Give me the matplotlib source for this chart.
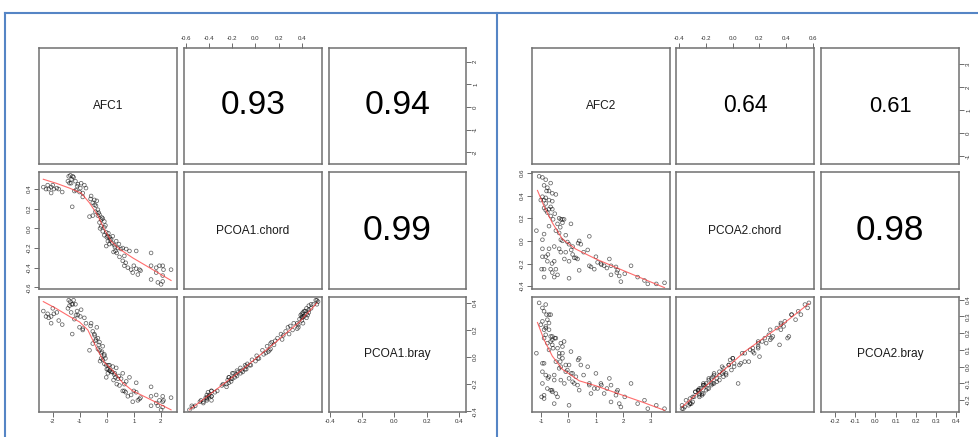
import matplotlib
matplotlib.use('Agg')
import matplotlib.pyplot as plt
from matplotlib.lines import Line2D

plt.rcParams['font.family'] = ['Liberation Sans', 'DejaVu Sans']

# ---- jeu 1 : AFC1 / PCOA1.chord / PCOA1.bray
afc1 = [-2.35, -2.19, -2.15, -2.06, -2.00, -2.06, -1.96, -1.78, -1.65, -1.41,
        -1.35, -1.26, -1.23, -1.44, -1.38, -1.32, -1.16, -1.07, -0.95, -0.83,
        -0.77, -1.14, -1.01, -1.20, -0.89, -1.28, -0.89, -0.58, -0.46, -0.37,
        -0.52, -0.40, -0.33, -0.64, -0.52, -0.33, -0.27, -0.21, -0.15, -0.09,
        -0.27, -0.21, -0.15, -0.02, -0.09, 0.04, 0.10, 0.16, 0.22, 0.04,
        0.10, -0.02, 0.35, 0.28, 0.32, 0.37, 0.53, 0.59, 0.72, 0.84,
        1.09, 0.65, 0.59, 0.65, 0.78, 0.90, 1.09, 0.96, 1.15, 1.21,
        1.64, 1.64, 1.83, 1.95, 2.07, 2.38, 1.83, 2.07, 1.64, 1.89,
        2.01, 2.07, -0.09, 0.00, 0.20, 0.41, -0.42, -0.25, 0.47, 0.25,
        -1.30, -1.10, -0.98, -0.60, -0.45, -0.30, -0.18, -0.05, 0.06, 0.12,
        0.30, 0.45, 0.70, 1.00, 1.25, 2.10, -2.25, -1.85]
chord1 = [0.42, 0.44, 0.40, 0.42, 0.44, 0.36, 0.40, 0.40, 0.37, 0.53,
          0.54, 0.53, 0.52, 0.48, 0.46, 0.46, 0.48, 0.45, 0.46, 0.44,
          0.41, 0.39, 0.37, 0.38, 0.36, 0.22, 0.32, 0.33, 0.29, 0.28,
          0.26, 0.23, 0.19, 0.12, 0.13, 0.13, 0.14, 0.09, 0.10, 0.07,
          0.06, 0.02, -0.03, -0.04, -0.07, -0.08, -0.09, -0.11, -0.08, -0.13,
          -0.16, -0.18, -0.13, -0.17, -0.23, -0.25, -0.21, -0.20, -0.21, -0.23,
          -0.23, -0.28, -0.33, -0.38, -0.40, -0.42, -0.41, -0.45, -0.47, -0.42,
          -0.25, -0.38, -0.40, -0.38, -0.38, -0.42, -0.45, -0.48, -0.52, -0.55,
          -0.57, -0.54, 0.01, -0.09, -0.15, -0.20, 0.17, 0.00, -0.29, -0.24,
          0.50, 0.43, 0.41, 0.30, 0.24, 0.16, 0.11, 0.03, -0.05, -0.12,
          -0.19, -0.16, -0.35, -0.38, -0.43, -0.42, 0.40, 0.41]
bray1 = [0.34, 0.32, 0.29, 0.30, 0.36, 0.25, 0.32, 0.27, 0.24, 0.42,
         0.41, 0.39, 0.42, 0.36, 0.38, 0.33, 0.39, 0.31, 0.35, 0.29,
         0.25, 0.31, 0.22, 0.28, 0.21, 0.17, 0.20, 0.25, 0.17, 0.22,
         0.19, 0.13, 0.14, 0.05, 0.10, 0.06, 0.11, 0.03, 0.08, 0.02,
         0.05, -0.01, -0.02, -0.06, -0.05, -0.09, -0.06, -0.11, -0.07, -0.12,
         -0.10, -0.15, -0.08, -0.13, -0.15, -0.20, -0.16, -0.12, -0.18, -0.15,
         -0.19, -0.20, -0.25, -0.25, -0.29, -0.28, -0.26, -0.33, -0.32, -0.31,
         -0.22, -0.29, -0.28, -0.32, -0.29, -0.30, -0.34, -0.33, -0.36, -0.36,
         -0.39, -0.37, 0.01, -0.09, -0.11, -0.16, 0.12, -0.03, -0.21, -0.17,
         0.39, 0.34, 0.30, 0.23, 0.16, 0.09, 0.04, -0.01, -0.06, -0.10,
         -0.12, -0.14, -0.26, -0.25, -0.30, -0.32, 0.30, 0.33]
names1 = ['AFC1', 'PCOA1.chord', 'PCOA1.bray']
cors1 = {(0, 1): 0.93, (0, 2): 0.94, (1, 2): 0.99}
# courbes lowess
smooth1 = {
    (1, 0): ([-2.35, -1.88, -1.38, -0.95, -0.64, -0.33, -0.09, 0.16, 0.47, 0.96, 1.58, 2.38],
             [0.50, 0.46, 0.41, 0.36, 0.26, 0.13, -0.01, -0.13, -0.21, -0.30, -0.40, -0.53]),
    (2, 0): ([-2.35, -1.88, -1.38, -1.01, -0.70, -0.40, -0.09, 0.22, 0.59, 0.96, 1.58, 2.38],
             [0.41, 0.36, 0.30, 0.26, 0.20, 0.075, -0.04, -0.10, -0.19, -0.25, -0.31, -0.39]),
    (2, 1): ([-0.57, -0.40, -0.11, 0.16, 0.38, 0.53],
             [-0.39, -0.28, -0.09, 0.10, 0.26, 0.40]),
}
lims1 = [(-2.51, 2.60), (-0.617, 0.574), (-0.406, 0.444)]
ticks1 = [[-2, -1, 0, 1, 2], [-0.6, -0.4, -0.2, 0.0, 0.2, 0.4], [-0.4, -0.2, 0.0, 0.2, 0.4]]
fmts1 = ['%d', '%.1f', '%.1f']

# ---- jeu 2 : AFC2 / PCOA2.chord / PCOA2.bray
afc2 = [-1.07, -0.95, -0.83, -0.65, -0.89, -0.77, -0.71, -0.59, -0.46, -0.95,
        -0.83, -1.01, -0.89, -0.71, -0.59, -0.83, -0.89, -0.83, -0.77, -0.71,
        -0.59, -0.65, -0.56, -0.34, -0.28, -0.22, -0.16, -0.22, -0.40, 0.09,
        -0.71, -0.46, -0.34, -0.28, -0.22, -0.04, 0.02, 0.15, 0.39, 0.45,
        0.76, -1.17, -0.89, -0.95, -0.52, -0.95, -0.71, -0.34, -0.28, -0.10,
        0.15, 0.27, 0.33, 0.70, -0.95, -0.83, -0.77, -0.52, -0.89, -0.65,
        -0.46, -0.59, -0.52, -0.89, 0.02, 0.21, 0.39, 0.02, 0.76, 0.82,
        1.00, 1.06, 1.18, 1.30, 1.49, 1.55, 1.55, 1.73, 1.79, 1.85,
        1.91, 1.76, 2.28, 2.52, 2.77, 2.89, 3.20, 3.50, 0.94, -0.98,
        -0.80, -0.65, -0.50, -0.30, -0.10, 0.10, 0.35, -0.75, -0.60, -0.40,
        0.55, 1.40, 2.05, 1.20, -0.15]
chord2 = [0.57, 0.56, 0.54, 0.51, 0.49, 0.47, 0.44, 0.42, 0.41, 0.39,
          0.38, 0.36, 0.36, 0.36, 0.35, 0.33, 0.29, 0.27, 0.25, 0.28,
          0.28, 0.22, 0.19, 0.20, 0.19, 0.19, 0.19, 0.16, 0.15, 0.15,
          0.13, 0.09, 0.07, 0.01, 0.00, -0.01, -0.03, -0.05, 0.00, -0.03,
          0.04, 0.09, 0.06, 0.01, -0.05, -0.07, -0.07, -0.07, -0.10, -0.10,
          -0.12, -0.15, -0.16, -0.08, -0.14, -0.14, -0.18, -0.18, -0.25, -0.25,
          -0.25, -0.28, -0.32, -0.32, -0.18, -0.15, -0.26, -0.33, -0.22, -0.23,
          -0.14, -0.19, -0.20, -0.22, -0.16, -0.30, -0.22, -0.23, -0.26, -0.31,
          -0.36, -0.28, -0.22, -0.32, -0.35, -0.38, -0.38, -0.37, -0.25, -0.25,
          0.44, 0.30, 0.24, 0.12, 0.05, -0.08, -0.02, -0.12, -0.20, -0.30,
          -0.10, -0.24, -0.29, -0.21, -0.16]
bray2 = [0.38, 0.35, 0.37, 0.31, 0.33, 0.28, 0.31, 0.18, 0.17, 0.27,
         0.24, 0.25, 0.22, 0.26, 0.13, 0.23, 0.17, 0.19, 0.14, 0.22,
         0.16, 0.15, 0.11, 0.06, 0.14, 0.12, 0.15, 0.08, 0.11, 0.09,
         0.10, 0.03, 0.08, 0.00, 0.05, -0.02, 0.01, -0.04, 0.05, 0.01,
         -0.10, 0.08, 0.02, 0.02, -0.05, -0.03, -0.06, -0.01, -0.08, -0.03,
         -0.09, -0.06, -0.11, 0.00, -0.10, -0.05, -0.13, -0.08, -0.17, -0.14,
         -0.16, -0.15, -0.22, -0.19, -0.07, -0.10, -0.14, -0.23, -0.11, -0.16,
         -0.04, -0.13, -0.10, -0.16, -0.07, -0.21, -0.11, -0.17, -0.14, -0.22,
         -0.24, -0.15, -0.10, -0.22, -0.20, -0.25, -0.23, -0.25, -0.13, -0.18,
         0.31, 0.18, 0.17, 0.03, 0.01, -0.04, 0.04, -0.07, -0.14, -0.18,
         -0.05, -0.13, -0.18, -0.11, -0.10]
names2 = ['AFC2', 'PCOA2.chord', 'PCOA2.bray']
cors2 = {(0, 1): 0.64, (0, 2): 0.61, (1, 2): 0.98}
smooth2 = {
    (1, 0): ([-1.13, -0.89, -0.59, -0.22, 0.27, 1.00, 1.85, 2.71, 3.50],
             [0.445, 0.305, 0.16, 0.015, -0.073, -0.16, -0.247, -0.334, -0.413]),
    (2, 0): ([-1.13, -0.89, -0.59, -0.22, 0.39, 1.00, 1.85, 2.71, 3.50],
             [0.263, 0.16, 0.063, -0.016, -0.084, -0.114, -0.163, -0.212, -0.26]),
    (2, 1): ([-0.38, -0.13, 0.09, 0.37, 0.57],
             [-0.24, -0.065, 0.09, 0.25, 0.376]),
}
lims2 = [(-1.33, 3.70), (-0.425, 0.608), (-0.27, 0.415)]
ticks2 = [[-1, 0, 1, 2, 3], [-0.4, -0.2, 0.0, 0.2, 0.4, 0.6],
          [-0.2, -0.1, 0.0, 0.1, 0.2, 0.3, 0.4]]
fmts2 = ['%d', '%.1f', '%.1f']

W, H = 979, 437
fig = plt.figure(figsize=(W / 100, H / 100), dpi=100, facecolor='white')

rows_px = [(48, 164), (172, 289), (297, 412)]
TICK_KW = dict(length=3.6, width=0.6, color='#555555', pad=1.5)
LAB_KW = dict(fontsize=4.4, color='#333333')


def draw_pairs(cols_px, data, lims, ticks, fmts, names, cors, smooth):
    for i in range(3):
        for j in range(3):
            x0, x1 = cols_px[j]
            y0, y1 = rows_px[i]
            ax = fig.add_axes([x0 / W, 1 - y1 / H, (x1 - x0) / W, (y1 - y0) / H])
            ax.set_xlim(lims[j])
            ax.set_ylim(lims[i])
            ax.set_xticks([])
            ax.set_yticks([])
            for s in ax.spines.values():
                s.set_color('#707070')
                s.set_linewidth(1.1)
            if i == j:
                ax.text(0.5, 0.5, names[i], transform=ax.transAxes, ha='center',
                        va='center', fontsize=8.6, color='#1a1a1a')
            elif i < j:
                r = cors[(i, j)]
                ax.text(0.5, 0.5, '%.2f' % r, transform=ax.transAxes, ha='center',
                        va='center', fontsize=25.8 * r, color='black')
            else:
                ax.scatter(data[j], data[i], s=7, facecolors='none',
                           edgecolors=(0, 0, 0, 0.6), linewidths=0.55)
                sx, sy = smooth[(i, j)]
                ax.plot(sx, sy, color='#ff3b3b', lw=0.8, alpha=0.75)
            # axes a la maniere de pairs() : alternance haut/bas, gauche/droite
            if (i == 0 and j % 2 == 1) or (i == 2 and j % 2 == 0):
                ax.set_xticks(ticks[j], [fmts[j] % t for t in ticks[j]], **LAB_KW)
                top = i == 0
                ax.tick_params(axis='x', top=top, labeltop=top, bottom=not top,
                               labelbottom=not top, **TICK_KW)
            if (j == 0 and i % 2 == 1) or (j == 2 and i % 2 == 0):
                ax.set_yticks(ticks[i], [fmts[i] % t for t in ticks[i]],
                              rotation=90, va='center', **LAB_KW)
                left = j == 0
                ax.tick_params(axis='y', left=left, labelleft=left, right=not left,
                               labelright=not left, **TICK_KW)


draw_pairs([(39, 177), (184, 322), (329, 466)], [afc1, chord1, bray1],
           lims1, ticks1, fmts1, names1, cors1, smooth1)
draw_pairs([(532, 670), (676, 814), (821, 959)], [afc2, chord2, bray2],
           lims2, ticks2, fmts2, names2, cors2, smooth2)

# cadres bleus
blue = '#5585c5'
fig.add_artist(Line2D([5 / W, 1], [1 - 13 / H, 1 - 13 / H], color=blue, lw=1.5,
                      transform=fig.transFigure))
fig.add_artist(Line2D([5 / W, 5 / W], [0, 1 - 13 / H], color=blue, lw=1.5,
                      transform=fig.transFigure))
fig.add_artist(Line2D([497 / W, 497 / W], [0, 1 - 13 / H], color=blue, lw=1.5,
                      transform=fig.transFigure))

fig.savefig('out.png', dpi=100, facecolor='white')
